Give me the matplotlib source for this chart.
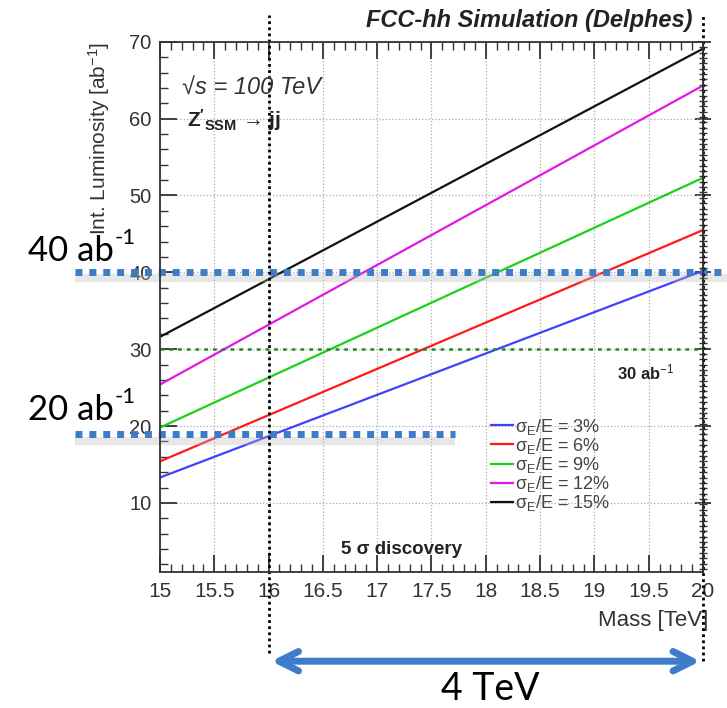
import numpy as np
import matplotlib
matplotlib.use("Agg")
import matplotlib.pyplot as plt
from matplotlib.ticker import MultipleLocator, NullFormatter

plt.rcParams['font.family'] = ['Liberation Sans', 'DejaVu Sans']
plt.rcParams['mathtext.fontset'] = 'custom'
plt.rcParams['mathtext.rm'] = 'Liberation Sans'
plt.rcParams['mathtext.it'] = 'Liberation Sans:italic'
plt.rcParams['mathtext.bf'] = 'Liberation Sans:bold'

# data
mass = [15, 20]
lumi_3 = [13.3, 40.2]
lumi_6 = [15.4, 45.5]
lumi_9 = [19.8, 52.3]
lumi_12 = [25.4, 64.3]
lumi_15 = [31.6, 69.1]
series = [lumi_3, lumi_6, lumi_9, lumi_12, lumi_15]
colors = ['#4040ff', '#ff1a1a', '#1ad11a', '#e01ae0', '#111111']
labels = ['σ$_{\\rm E}$/E = 3%', 'σ$_{\\rm E}$/E = 6%', 'σ$_{\\rm E}$/E = 9%',
          'σ$_{\\rm E}$/E = 12%', 'σ$_{\\rm E}$/E = 15%']
req_high = 40
req_low = 18.9
req_30 = 30
m_start = 16
m_end = 20

fig = plt.figure(figsize=(7.27, 7.08), dpi=100)
ax = fig.add_axes([0.22, 0.192, 0.747, 0.749])

for y, c, l in zip(series, colors, labels):
    ax.plot(mass, y, color=c, lw=1.6, label=l)

ax.set_xlim(15, 20)
ax.set_ylim(1, 70)
ax.xaxis.set_major_locator(MultipleLocator(0.5))
ax.xaxis.set_minor_locator(MultipleLocator(0.1))
ax.yaxis.set_major_locator(MultipleLocator(10))
ax.yaxis.set_minor_locator(MultipleLocator(2))
ax.xaxis.set_major_formatter(plt.FuncFormatter(lambda v, p: '%g' % v))
ax.tick_params(which='both', direction='in', top=True, right=False, colors='#333333')
ax.tick_params(axis='x', labelsize=15, pad=7)
ax.tick_params(axis='y', labelsize=14.5, pad=6)
ax.tick_params(which='major', length=12, width=1.3)
ax.tick_params(which='minor', length=6, width=1.0)
for s in ax.spines.values():
    s.set_color('#333333')
    s.set_linewidth(1.3)
ax.grid(True, which='major', ls=':', color='#aaaaaa', lw=0.9)

sec = ax.secondary_yaxis('right')
sec.yaxis.set_major_locator(MultipleLocator(10))
sec.yaxis.set_minor_locator(MultipleLocator(0.7))
sec.yaxis.set_major_formatter(NullFormatter())
sec.tick_params(which='major', direction='inout', length=12, width=1.3, colors='#333333')
sec.tick_params(which='minor', direction='inout', length=6, width=1.0, colors='#333333')

ax.set_ylabel(r'Int. Luminosity [ab$^{-1}$]', fontsize=15, color='#333333', loc='top')
ax.yaxis.set_label_coords(-0.088, 1.0)
ax.set_xlabel('Mass [TeV]', fontsize=16, color='#333333', loc='right')
ax.xaxis.set_label_coords(1.01, -0.072)

ax.text(0.98, 1.0 + 15 / 530, 'FCC-hh Simulation (Delphes)', transform=ax.transAxes,
        ha='right', va='baseline', fontsize=17, fontweight='bold', fontstyle='italic', color='#222222')
ax.text(15.2, 63.1, '√s = 100 TeV', fontsize=17, fontstyle='italic', color='#333333')
ax.text(15.25, 59.0, r"$\mathbf{Z'_{SSM}}$ → jj", fontsize=15, fontweight='bold', color='#222222')
ax.text(16.67, 3.3, '5 σ discovery', fontsize=13.5, fontweight='bold', color='#222222')

legend = ax.legend(loc='upper left', bbox_to_anchor=(0.593, 0.31), frameon=False, fontsize=13,
                   handlelength=1.2, handletextpad=0.15, labelspacing=-0.05, borderpad=0)
for t in legend.get_texts():
    t.set_color('#444444')

# 30 ab-1 line
ax.plot([15, 20], [req_30, req_30], ls=(0, (1.5, 2)), color='#1f8a1f', lw=1.8)
ax.text(19.47, 27.0, r'30 ab$^{-1}$', fontsize=12, fontweight='bold', color='#222222',
        ha='center', va='center')

# overlaid annotations
for yv, x1 in [(req_high, 20.25), (req_low, 17.72)]:
    ax.plot([14.22, x1], [yv - 0.8, yv - 0.8], color='#bbbbbb', lw=6, alpha=0.35,
            clip_on=False, solid_capstyle='butt')
    ax.plot([14.22, x1], [yv, yv], ls=(0, (1, 1)), color='#3d7cc9', lw=5, clip_on=False)

ax.plot([m_start, m_start], [-9.5, 73.5], ls=(0, (1, 1.2)), color='black', lw=2, clip_on=False)
ax.plot([m_end, m_end], [-10.6, 73.5], ls=(0, (1, 1.2)), color='black', lw=2, clip_on=False)
ax.annotate('', xy=(m_start, -10.6), xytext=(m_end, -10.6), annotation_clip=False,
            arrowprops=dict(arrowstyle='<->', color='#3d7cc9', lw=5, mutation_scale=35))
ax.text((m_start + m_end) / 2 + 0.04, -15.6, '4 TeV', fontsize=27, fontfamily='Lato',
        ha='center', va='baseline', color='black', clip_on=False)

# big labels with a plain hyphen superscript
fig.canvas.draw()
renderer = fig.canvas.get_renderer()
for txt, ypix in [('40 ab', 261), ('20 ab', 420)]:
    t = fig.text(28 / 727, 1 - ypix / 708, txt, fontsize=25, fontfamily='Lato', color='black',
                 va='baseline')
    bb = t.get_window_extent(renderer)
    fig.text((bb.x1 + 1) / 727, 1 - (ypix - 17) / 708, '-1', fontsize=16, fontfamily='Lato',
             color='black', va='baseline')

fig.savefig('out.png', dpi=100)
